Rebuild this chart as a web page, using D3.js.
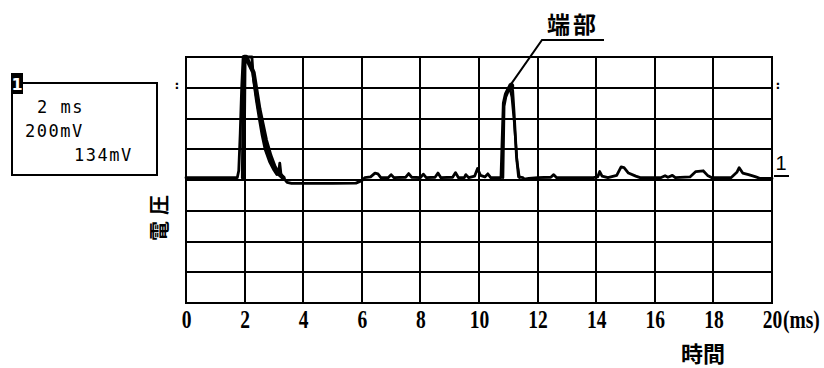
<!DOCTYPE html>
<html>
<head>
<meta charset="utf-8">
<script src="https://cdn.jsdelivr.net/npm/d3@7"></script>
<style>
  html, body { margin: 0; padding: 0; background: #fff; }
  svg { display: block; }
</style>
</head>
<body>
<div id="chart"></div>
<script>
// Time axis ticks (ms) and voltage divisions (mV, 200 mV/div)
const timeTicks = [0, 2, 4, 6, 8, 10, 12, 14, 16, 18, 20];
const voltDivs = [-800, -600, -400, -200, 0, 200, 400, 600, 800];

// Main captured trace: time (ms) and voltage (mV)
const timeMs = [
  0, 1.75, 1.8, 1.85, 1.9, 1.95, 2.25, 2.3, 2.4, 2.5, 2.6, 2.7, 2.85, 3.0, 3.1, 3.17, 3.2, 3.24, 3.32,
  3.45, 3.6, 5.0, 5.8, 6.0, 6.1, 6.3, 6.45, 6.55, 6.65, 6.9, 7.0, 7.1, 7.5, 7.6, 7.7, 8.0, 8.1, 8.2,
  8.5, 8.6, 8.7, 9.1, 9.2, 9.3, 9.5, 9.55, 9.65, 9.85, 9.95, 10.05, 10.2, 10.3, 10.4,
  10.75, 10.8, 10.83, 10.9, 11.0, 11.1, 11.15, 11.2, 11.28, 11.35, 11.5, 11.55, 11.7,
  12.0, 12.45, 12.55, 12.65, 13.9, 14.05, 14.12, 14.2, 14.4, 14.7, 14.85, 14.95, 15.1, 15.35, 15.5,
  16.2, 16.35, 16.45, 16.6, 16.7, 17.2, 17.4, 17.65, 17.8, 17.95, 18.6, 18.8, 18.88, 19.0, 19.2,
  19.45, 19.6, 20
];
const voltageMv = [
  15, 15, 60, 300, 600, 800, 800, 660, 520, 400, 290, 200, 120, 65, 35, 60, 110, 40, 15,
  -15, -22, -22, -20, -5, 15, 20, 45, 40, 15, 15, 35, 15, 18, 42, 18, 15, 38, 15,
  18, 45, 15, 18, 48, 15, 15, 35, 15, 25, 75, 30, 20, 40, 15,
  15, 320, 500, 560, 600, 625, 580, 430, 150, 20, 15, 5, 10,
  15, 18, 35, 15, 15, 20, 55, 25, 15, 30, 85, 80, 45, 25, 15,
  15, 28, 18, 30, 15, 20, 55, 60, 30, 15, 15, 50, 80, 45, 35,
  20, 10, 10
];

// Overlapping sweeps on the two pulses (persistence of the scope display)
const sweep1Ms = [1.95, 1.99, 2.05, 2.3, 2.4, 2.5, 2.6, 2.72, 2.87, 3.02, 3.17, 3.32];
const sweep1Mv = [15, 800, 800, 700, 580, 460, 370, 260, 160, 85, 40, 15];
const sweep2Ms = [10.82, 10.86, 10.92, 11.05, 11.12, 11.2, 11.3, 11.38];
const sweep2Mv = [15, 480, 540, 600, 540, 380, 120, 15];

// Scope readout panel
const readout = ["2 ms", "200mV", "134mV"];

const W = 824, H = 368;
const plot = { left: 186, right: 772, top: 57, bottom: 303 };

const svg = d3.select("#chart").append("svg")
  .attr("width", W).attr("height", H)
  .attr("viewBox", `0 0 ${W} ${H}`);

const x = d3.scaleLinear().domain([0, 20]).range([plot.left, plot.right]);
const y = d3.scaleLinear().domain([-800, 800]).range([plot.bottom, plot.top]);

// Graticule
const grid = svg.append("g").attr("stroke", "#000").attr("stroke-width", 2)
  .attr("shape-rendering", "crispEdges");
grid.selectAll("line.v").data(timeTicks).join("line")
  .attr("class", "v")
  .attr("x1", d => x(d)).attr("x2", d => x(d))
  .attr("y1", y(800) - 1).attr("y2", y(-800) + 1);
grid.selectAll("line.h").data(voltDivs).join("line")
  .attr("class", "h")
  .attr("x1", x(0) - 1).attr("x2", x(20) + 1)
  .attr("y1", d => y(d)).attr("y2", d => y(d));

// X axis labels
const xAxis = d3.axisBottom(x).tickValues(timeTicks).tickSize(0).tickPadding(0)
  .tickFormat(d3.format("d"));
const gx = svg.append("g").attr("transform", `translate(0, ${plot.bottom})`).call(xAxis);
gx.select(".domain").remove();
gx.selectAll("text")
  .attr("dy", null).attr("y", 25)
  .attr("font-family", "'Liberation Serif', serif")
  .attr("font-weight", "bold")
  .attr("font-size", 25)
  .attr("fill", "#000")
  .attr("transform", "scale(0.78,1)");
const msX = x(20) + 11;
svg.append("text")
  .attr("x", msX).attr("y", plot.bottom + 25)
  .attr("font-family", "'Liberation Serif', serif")
  .attr("font-weight", "bold").attr("font-size", 25)
  .attr("transform", `translate(${msX * 0.22},0) scale(0.78,1)`)
  .text("(ms)");

// Axis titles
svg.append("text")
  .attr("x", 703).attr("y", 362)
  .attr("text-anchor", "middle")
  .attr("font-family", "'Noto Sans CJK JP', sans-serif")
  .attr("font-weight", "bold").attr("font-size", 22)
  .text("時間");
svg.append("text")
  .attr("transform", "translate(167, 215) rotate(-90)")
  .attr("text-anchor", "middle")
  .attr("font-family", "'Noto Sans CJK JP', sans-serif")
  .attr("font-weight", "bold").attr("font-size", 20)
  .attr("letter-spacing", 6)
  .text("電圧");

// Trace
const line = d3.line().x(d => x(d[0])).y(d => y(d[1]));
const traceG = svg.append("g").attr("fill", "none").attr("stroke", "#000")
  .attr("stroke-linejoin", "round").attr("stroke-linecap", "round");
traceG.append("path")
  .attr("d", line(d3.zip(timeMs, voltageMv)))
  .attr("stroke-width", 2.8);
traceG.append("path")
  .attr("d", line(d3.zip(sweep1Ms, sweep1Mv)))
  .attr("stroke-width", 4.5);
traceG.append("path")
  .attr("d", line(d3.zip(sweep2Ms, sweep2Mv)))
  .attr("stroke-width", 2.5);

// Annotation for the end-point pulse
const peakIdx = d3.range(timeMs.length).filter(i => timeMs[i] > 10 && timeMs[i] < 12)
  .reduce((a, b) => voltageMv[b] > voltageMv[a] ? b : a);
const px = x(timeMs[peakIdx]), py = y(voltageMv[peakIdx]);
svg.append("path")
  .attr("d", `M${px},${py} L542,40 L604,40`)
  .attr("fill", "none").attr("stroke", "#000").attr("stroke-width", 2);
svg.append("circle").attr("cx", px).attr("cy", py + 2).attr("r", 3);
svg.append("text")
  .attr("x", 573).attr("y", 33)
  .attr("text-anchor", "middle")
  .attr("font-family", "'Noto Sans CJK JP', sans-serif")
  .attr("font-weight", "bold").attr("font-size", 23)
  .attr("letter-spacing", 3)
  .text("端部");

// Channel marker on the right edge
svg.append("text")
  .attr("x", 781).attr("y", 170)
  .attr("text-anchor", "middle")
  .attr("font-family", "'Liberation Sans', sans-serif")
  .attr("font-size", 20)
  .text("1");
svg.append("line")
  .attr("x1", plot.right + 2).attr("x2", 789)
  .attr("y1", 176).attr("y2", 176)
  .attr("stroke", "#000").attr("stroke-width", 2);

// Trigger level marks
[[177, 89], [778, 89]].forEach(([mx, my]) => {
  svg.append("text")
    .attr("x", mx).attr("y", my)
    .attr("text-anchor", "middle")
    .attr("font-family", "'DejaVu Sans Mono', monospace")
    .attr("font-weight", "bold")
    .attr("font-size", 13)
    .text(":");
});

// Readout panel
svg.append("rect")
  .attr("x", 12).attr("y", 83).attr("width", 145).attr("height", 92)
  .attr("fill", "none").attr("stroke", "#000").attr("stroke-width", 2);
svg.append("rect")
  .attr("x", 11).attr("y", 73).attr("width", 12).attr("height", 21)
  .attr("fill", "#000");
svg.append("text")
  .attr("x", 17).attr("y", 90)
  .attr("text-anchor", "middle")
  .attr("font-family", "'DejaVu Sans', sans-serif")
  .attr("font-weight", "bold")
  .attr("font-size", 16).attr("fill", "#fff")
  .text("1");
const readPos = [[37, 113], [25, 137], [74, 161]];
svg.selectAll("text.readout").data(readout).join("text")
  .attr("class", "readout")
  .attr("x", (d, i) => readPos[i][0]).attr("y", (d, i) => readPos[i][1])
  .attr("font-family", "'DejaVu Sans Mono', monospace")
  .attr("font-size", 17)
  .attr("letter-spacing", 1.5)
  .attr("xml:space", "preserve")
  .text(d => d);
</script>
</body>
</html>
